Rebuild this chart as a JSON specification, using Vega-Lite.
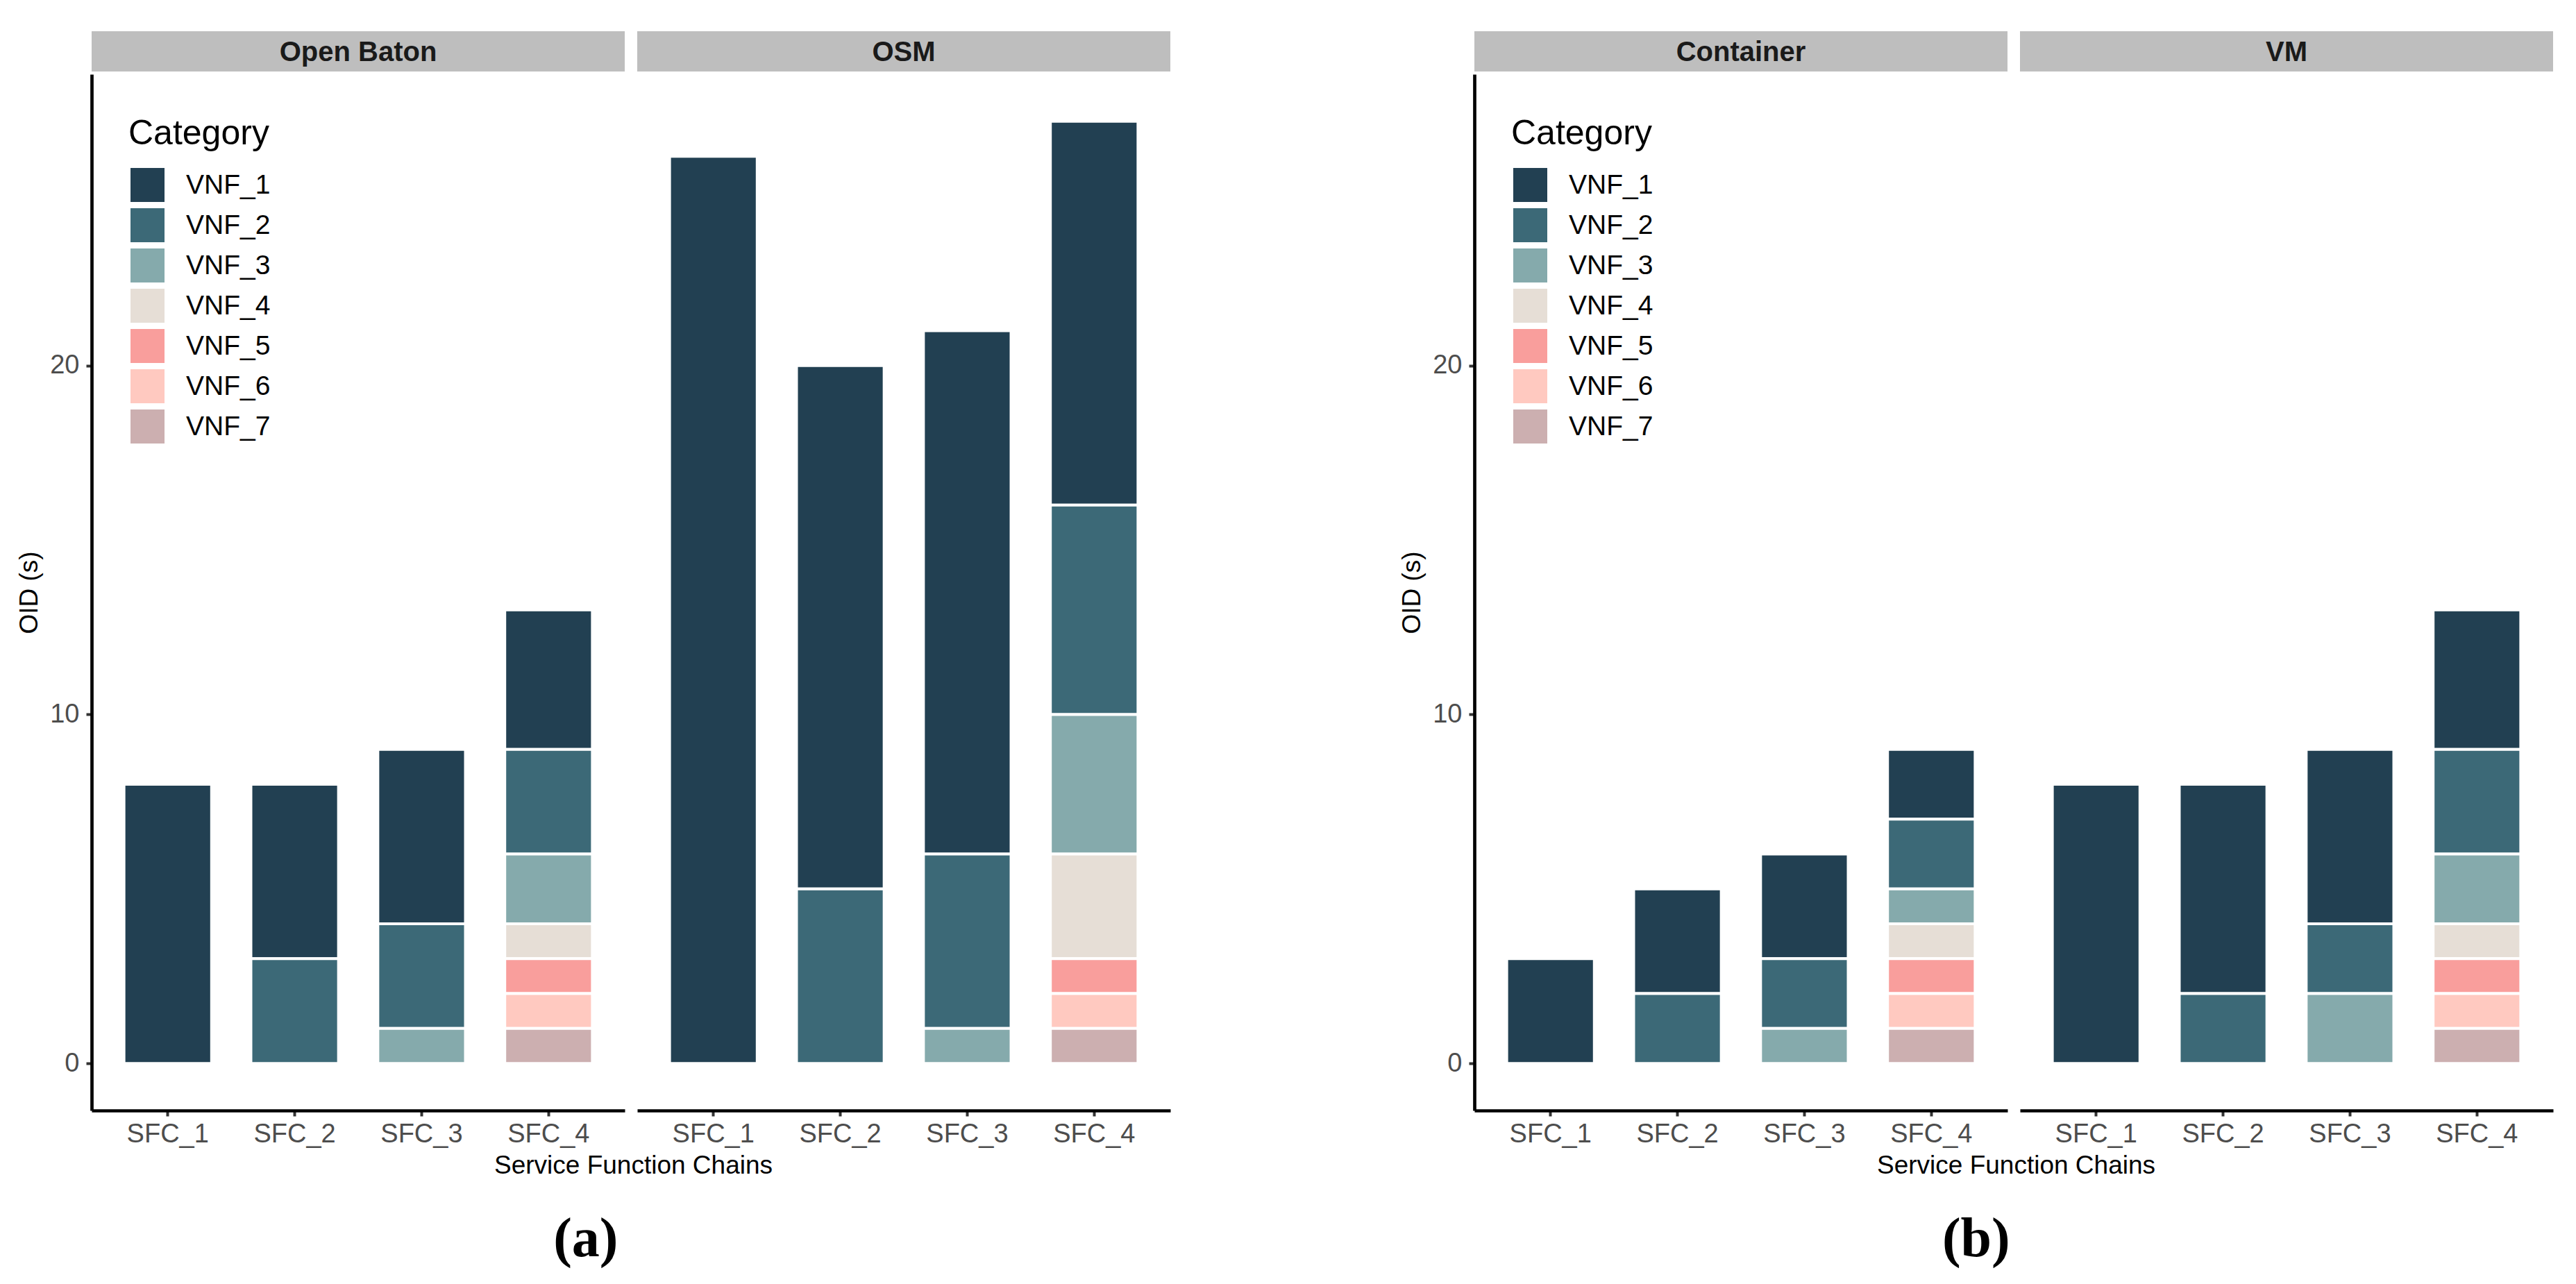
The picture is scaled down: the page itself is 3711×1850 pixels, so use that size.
{
  "$schema": "https://vega.github.io/schema/vega-lite/v6.json",
  "background": "white",
  "padding": {"left": 23, "top": 45, "right": 10, "bottom": 10},
  "spacing": 329,
  "resolve": {"scale": {"color": "independent"}, "legend": {"color": "independent"}},
  "config": {
    "font": "Liberation Sans",
    "view": {"stroke": null},
    "axis": {
      "grid": false,
      "labelFont": "Liberation Sans",
      "labelFontSize": 38,
      "labelColor": "#4D4D4D",
      "tickSize": 8,
      "tickWidth": 4,
      "tickColor": "#333333",
      "domainColor": "black",
      "domainWidth": 4.7,
      "titleFont": "Liberation Sans",
      "titleFontSize": 37,
      "titleFontWeight": "normal",
      "titleColor": "black"
    },
    "axisX": {"labelAngle": 0, "labelPadding": 7},
    "axisY": {"labelPadding": 10, "titlePadding": 10},
    "legend": {
      "padding": 0,
      "titleFont": "Liberation Sans",
      "titleFontSize": 50,
      "titleFontWeight": "normal",
      "titleColor": "black",
      "titlePadding": 24,
      "titleLimit": 600,
      "labelFont": "Liberation Sans",
      "labelFontSize": 39,
      "labelColor": "black",
      "labelOffset": 31,
      "labelLimit": 600,
      "symbolType": "square",
      "symbolSize": 2401,
      "symbolStrokeWidth": 0,
      "symbolOpacity": 1,
      "symbolOffset": 3,
      "rowPadding": 9
    }
  },
  "datasets": {
    "bars": [
      {"platform": "Open Baton", "sfc": "SFC_1", "vnf": "VNF_1", "oid": 8},
      {"platform": "Open Baton", "sfc": "SFC_2", "vnf": "VNF_1", "oid": 5},
      {"platform": "Open Baton", "sfc": "SFC_2", "vnf": "VNF_2", "oid": 3},
      {"platform": "Open Baton", "sfc": "SFC_3", "vnf": "VNF_1", "oid": 5},
      {"platform": "Open Baton", "sfc": "SFC_3", "vnf": "VNF_2", "oid": 3},
      {"platform": "Open Baton", "sfc": "SFC_3", "vnf": "VNF_3", "oid": 1},
      {"platform": "Open Baton", "sfc": "SFC_4", "vnf": "VNF_1", "oid": 4},
      {"platform": "Open Baton", "sfc": "SFC_4", "vnf": "VNF_2", "oid": 3},
      {"platform": "Open Baton", "sfc": "SFC_4", "vnf": "VNF_3", "oid": 2},
      {"platform": "Open Baton", "sfc": "SFC_4", "vnf": "VNF_4", "oid": 1},
      {"platform": "Open Baton", "sfc": "SFC_4", "vnf": "VNF_5", "oid": 1},
      {"platform": "Open Baton", "sfc": "SFC_4", "vnf": "VNF_6", "oid": 1},
      {"platform": "Open Baton", "sfc": "SFC_4", "vnf": "VNF_7", "oid": 1},
      {"platform": "OSM", "sfc": "SFC_1", "vnf": "VNF_1", "oid": 26},
      {"platform": "OSM", "sfc": "SFC_2", "vnf": "VNF_1", "oid": 15},
      {"platform": "OSM", "sfc": "SFC_2", "vnf": "VNF_2", "oid": 5},
      {"platform": "OSM", "sfc": "SFC_3", "vnf": "VNF_1", "oid": 15},
      {"platform": "OSM", "sfc": "SFC_3", "vnf": "VNF_2", "oid": 5},
      {"platform": "OSM", "sfc": "SFC_3", "vnf": "VNF_3", "oid": 1},
      {"platform": "OSM", "sfc": "SFC_4", "vnf": "VNF_1", "oid": 11},
      {"platform": "OSM", "sfc": "SFC_4", "vnf": "VNF_2", "oid": 6},
      {"platform": "OSM", "sfc": "SFC_4", "vnf": "VNF_3", "oid": 4},
      {"platform": "OSM", "sfc": "SFC_4", "vnf": "VNF_4", "oid": 3},
      {"platform": "OSM", "sfc": "SFC_4", "vnf": "VNF_5", "oid": 1},
      {"platform": "OSM", "sfc": "SFC_4", "vnf": "VNF_6", "oid": 1},
      {"platform": "OSM", "sfc": "SFC_4", "vnf": "VNF_7", "oid": 1},
      {"platform": "Container", "sfc": "SFC_1", "vnf": "VNF_1", "oid": 3},
      {"platform": "Container", "sfc": "SFC_2", "vnf": "VNF_1", "oid": 3},
      {"platform": "Container", "sfc": "SFC_2", "vnf": "VNF_2", "oid": 2},
      {"platform": "Container", "sfc": "SFC_3", "vnf": "VNF_1", "oid": 3},
      {"platform": "Container", "sfc": "SFC_3", "vnf": "VNF_2", "oid": 2},
      {"platform": "Container", "sfc": "SFC_3", "vnf": "VNF_3", "oid": 1},
      {"platform": "Container", "sfc": "SFC_4", "vnf": "VNF_1", "oid": 2},
      {"platform": "Container", "sfc": "SFC_4", "vnf": "VNF_2", "oid": 2},
      {"platform": "Container", "sfc": "SFC_4", "vnf": "VNF_3", "oid": 1},
      {"platform": "Container", "sfc": "SFC_4", "vnf": "VNF_4", "oid": 1},
      {"platform": "Container", "sfc": "SFC_4", "vnf": "VNF_5", "oid": 1},
      {"platform": "Container", "sfc": "SFC_4", "vnf": "VNF_6", "oid": 1},
      {"platform": "Container", "sfc": "SFC_4", "vnf": "VNF_7", "oid": 1},
      {"platform": "VM", "sfc": "SFC_1", "vnf": "VNF_1", "oid": 8},
      {"platform": "VM", "sfc": "SFC_2", "vnf": "VNF_1", "oid": 6},
      {"platform": "VM", "sfc": "SFC_2", "vnf": "VNF_2", "oid": 2},
      {"platform": "VM", "sfc": "SFC_3", "vnf": "VNF_1", "oid": 5},
      {"platform": "VM", "sfc": "SFC_3", "vnf": "VNF_2", "oid": 2},
      {"platform": "VM", "sfc": "SFC_3", "vnf": "VNF_3", "oid": 2},
      {"platform": "VM", "sfc": "SFC_4", "vnf": "VNF_1", "oid": 4},
      {"platform": "VM", "sfc": "SFC_4", "vnf": "VNF_2", "oid": 3},
      {"platform": "VM", "sfc": "SFC_4", "vnf": "VNF_3", "oid": 2},
      {"platform": "VM", "sfc": "SFC_4", "vnf": "VNF_4", "oid": 1},
      {"platform": "VM", "sfc": "SFC_4", "vnf": "VNF_5", "oid": 1},
      {"platform": "VM", "sfc": "SFC_4", "vnf": "VNF_6", "oid": 1},
      {"platform": "VM", "sfc": "SFC_4", "vnf": "VNF_7", "oid": 1}
    ]
  },
  "hconcat": [
    {
      "hconcat": [
        {
          "width": 768, "height": 1493,
          "layer": [
            {
              "data": {"name": "bars"},
              "transform": [{"filter": "datum.platform === 'Open Baton'"}],
              "mark": {"type": "bar", "stroke": "white", "strokeWidth": 4},
              "encoding": {
                "x": {"field": "sfc", "type": "nominal", "sort": ["SFC_1", "SFC_2", "SFC_3", "SFC_4"], "scale": {"paddingInner": 0.31, "paddingOuter": 0.255}, "axis": {"title": "Service Function Chains", "titleX": 780, "titleY": 90, "titleBaseline": "alphabetic", "titleAlign": "center"}},
                "y": {"field": "oid", "type": "quantitative", "stack": "zero", "scale": {"domain": [-1.35, 28.35], "nice": false, "zero": false}, "axis": {"title": "OID (s)", "values": [0, 10, 20]}},
                "color": {"field": "vnf", "type": "nominal", "scale": {"domain": ["VNF_1", "VNF_2", "VNF_3", "VNF_4", "VNF_5", "VNF_6", "VNF_7"], "range": ["#224052", "#3C6977", "#85AAAC", "#E6DED6", "#F99E9C", "#FFC9C0", "#CCAFB0"]}, "legend": {"title": "Category", "orient": "none", "legendX": 53, "legendY": 61}},
                "order": {"field": "vnf", "sort": "descending"}
              }
            },
            {
              "data": {"values": [{"platform": "Open Baton"}]},
              "mark": {"type": "rect", "color": "#BEBEBE", "clip": false},
              "encoding": {"y": {"datum": 29.583, "type": "quantitative", "axis": {"title": "OID (s)", "values": [0, 10, 20]}}, "y2": {"datum": 28.43}}
            },
            {
              "data": {"values": [{"platform": "Open Baton"}]},
              "mark": {"type": "text", "font": "Liberation Sans", "fontWeight": "bold", "fontSize": 40, "color": "#1A1A1A", "baseline": "alphabetic", "align": "center", "clip": false},
              "encoding": {"y": {"datum": 28.728, "type": "quantitative", "axis": {"title": "OID (s)", "values": [0, 10, 20]}}, "text": {"field": "platform"}}
            }
          ]
        },
        {
          "width": 768, "height": 1493,
          "layer": [
            {
              "data": {"name": "bars"},
              "transform": [{"filter": "datum.platform === 'OSM'"}],
              "mark": {"type": "bar", "stroke": "white", "strokeWidth": 4},
              "encoding": {
                "x": {"field": "sfc", "type": "nominal", "sort": ["SFC_1", "SFC_2", "SFC_3", "SFC_4"], "scale": {"paddingInner": 0.31, "paddingOuter": 0.255}, "axis": {"title": null}},
                "y": {"field": "oid", "type": "quantitative", "stack": "zero", "scale": {"domain": [-1.35, 28.35], "nice": false, "zero": false}, "axis": null},
                "color": {"field": "vnf", "type": "nominal", "scale": {"domain": ["VNF_1", "VNF_2", "VNF_3", "VNF_4", "VNF_5", "VNF_6", "VNF_7"], "range": ["#224052", "#3C6977", "#85AAAC", "#E6DED6", "#F99E9C", "#FFC9C0", "#CCAFB0"]}, "legend": null},
                "order": {"field": "vnf", "sort": "descending"}
              }
            },
            {
              "data": {"values": [{"platform": "OSM"}]},
              "mark": {"type": "rect", "color": "#BEBEBE", "clip": false},
              "encoding": {"y": {"datum": 29.583, "type": "quantitative", "axis": null}, "y2": {"datum": 28.43}}
            },
            {
              "data": {"values": [{"platform": "OSM"}]},
              "mark": {"type": "text", "font": "Liberation Sans", "fontWeight": "bold", "fontSize": 40, "color": "#1A1A1A", "baseline": "alphabetic", "align": "center", "clip": false},
              "encoding": {"y": {"datum": 28.728, "type": "quantitative", "axis": null}, "text": {"field": "platform"}}
            }
          ]
        }
      ],
      "spacing": 18,
      "bounds": "flush",
      "resolve": {"scale": {"color": "independent"}, "legend": {"color": "independent"}},
      "title": {"text": "(a)", "orient": "bottom", "anchor": "middle", "frame": "bounds", "font": "Liberation Serif", "fontWeight": "bold", "fontSize": 80, "color": "black", "offset": 50, "dx": -11}
    },
    {
      "hconcat": [
        {
          "width": 768, "height": 1493,
          "layer": [
            {
              "data": {"name": "bars"},
              "transform": [{"filter": "datum.platform === 'Container'"}],
              "mark": {"type": "bar", "stroke": "white", "strokeWidth": 4},
              "encoding": {
                "x": {"field": "sfc", "type": "nominal", "sort": ["SFC_1", "SFC_2", "SFC_3", "SFC_4"], "scale": {"paddingInner": 0.31, "paddingOuter": 0.255}, "axis": {"title": "Service Function Chains", "titleX": 780, "titleY": 90, "titleBaseline": "alphabetic", "titleAlign": "center"}},
                "y": {"field": "oid", "type": "quantitative", "stack": "zero", "scale": {"domain": [-1.35, 28.35], "nice": false, "zero": false}, "axis": {"title": "OID (s)", "values": [0, 10, 20]}},
                "color": {"field": "vnf", "type": "nominal", "scale": {"domain": ["VNF_1", "VNF_2", "VNF_3", "VNF_4", "VNF_5", "VNF_6", "VNF_7"], "range": ["#224052", "#3C6977", "#85AAAC", "#E6DED6", "#F99E9C", "#FFC9C0", "#CCAFB0"]}, "legend": {"title": "Category", "orient": "none", "legendX": 53, "legendY": 61}},
                "order": {"field": "vnf", "sort": "descending"}
              }
            },
            {
              "data": {"values": [{"platform": "Container"}]},
              "mark": {"type": "rect", "color": "#BEBEBE", "clip": false},
              "encoding": {"y": {"datum": 29.583, "type": "quantitative", "axis": {"title": "OID (s)", "values": [0, 10, 20]}}, "y2": {"datum": 28.43}}
            },
            {
              "data": {"values": [{"platform": "Container"}]},
              "mark": {"type": "text", "font": "Liberation Sans", "fontWeight": "bold", "fontSize": 40, "color": "#1A1A1A", "baseline": "alphabetic", "align": "center", "clip": false},
              "encoding": {"y": {"datum": 28.728, "type": "quantitative", "axis": {"title": "OID (s)", "values": [0, 10, 20]}}, "text": {"field": "platform"}}
            }
          ]
        },
        {
          "width": 768, "height": 1493,
          "layer": [
            {
              "data": {"name": "bars"},
              "transform": [{"filter": "datum.platform === 'VM'"}],
              "mark": {"type": "bar", "stroke": "white", "strokeWidth": 4},
              "encoding": {
                "x": {"field": "sfc", "type": "nominal", "sort": ["SFC_1", "SFC_2", "SFC_3", "SFC_4"], "scale": {"paddingInner": 0.31, "paddingOuter": 0.255}, "axis": {"title": null}},
                "y": {"field": "oid", "type": "quantitative", "stack": "zero", "scale": {"domain": [-1.35, 28.35], "nice": false, "zero": false}, "axis": null},
                "color": {"field": "vnf", "type": "nominal", "scale": {"domain": ["VNF_1", "VNF_2", "VNF_3", "VNF_4", "VNF_5", "VNF_6", "VNF_7"], "range": ["#224052", "#3C6977", "#85AAAC", "#E6DED6", "#F99E9C", "#FFC9C0", "#CCAFB0"]}, "legend": null},
                "order": {"field": "vnf", "sort": "descending"}
              }
            },
            {
              "data": {"values": [{"platform": "VM"}]},
              "mark": {"type": "rect", "color": "#BEBEBE", "clip": false},
              "encoding": {"y": {"datum": 29.583, "type": "quantitative", "axis": null}, "y2": {"datum": 28.43}}
            },
            {
              "data": {"values": [{"platform": "VM"}]},
              "mark": {"type": "text", "font": "Liberation Sans", "fontWeight": "bold", "fontSize": 40, "color": "#1A1A1A", "baseline": "alphabetic", "align": "center", "clip": false},
              "encoding": {"y": {"datum": 28.728, "type": "quantitative", "axis": null}, "text": {"field": "platform"}}
            }
          ]
        }
      ],
      "spacing": 18,
      "bounds": "flush",
      "resolve": {"scale": {"color": "independent"}, "legend": {"color": "independent"}},
      "title": {"text": "(b)", "orient": "bottom", "anchor": "middle", "frame": "bounds", "font": "Liberation Serif", "fontWeight": "bold", "fontSize": 80, "color": "black", "offset": 50}
    }
  ]
}
